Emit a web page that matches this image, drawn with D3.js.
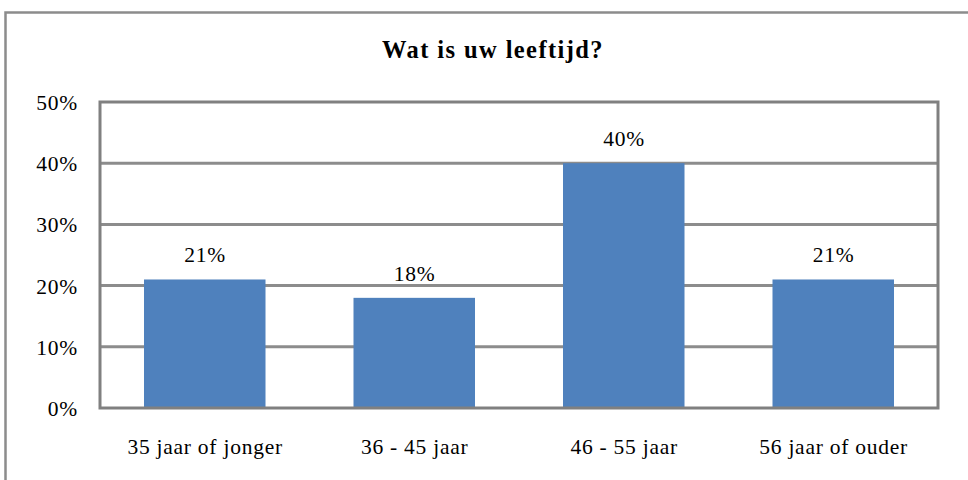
<!DOCTYPE html>
<html>
<head>
<meta charset="utf-8">
<script src="https://cdn.jsdelivr.net/npm/d3@7"></script>
<style>
  html, body { margin: 0; padding: 0; background: #fff; }
  svg { display: block; }
  text { font-family: "Liberation Serif", "DejaVu Serif", serif; fill: #000; }
</style>
</head>
<body>
<svg id="chart" width="968" height="480"></svg>
<script>
// Age groups and their share of respondents
const categories = ["35 jaar of jonger", "36 - 45 jaar", "46 - 55 jaar", "56 jaar of ouder"];
const values = [0.21, 0.18, 0.40, 0.21];
const yTicks = [0, 0.1, 0.2, 0.3, 0.4, 0.5];
const title = "Wat is uw leeftijd?";

const svg = d3.select("#chart");
const plot = { left: 100, right: 938, top: 102, bottom: 408 };
const labelSize = 21.5, labelSpacing = 0.75;

// Outer frame
svg.append("rect")
  .attr("x", 5.5).attr("y", 12.5)
  .attr("width", 990).attr("height", 500)
  .attr("fill", "none").attr("stroke", "#8c8c8c").attr("stroke-width", 2.5);

svg.append("text")
  .attr("x", 493).attr("y", 58)
  .attr("text-anchor", "middle")
  .attr("font-weight", "bold")
  .attr("font-size", 24.5)
  .attr("letter-spacing", 1.4)
  .text(title);

const x = d3.scaleBand().domain(categories).range([plot.left, plot.right]).paddingInner(0.42).paddingOuter(0.21);
const y = d3.scaleLinear().domain([0, 0.5]).range([plot.bottom, plot.top]);
const fmt = d3.format(".0%");

// Gridlines
svg.append("g").selectAll("line").data(yTicks.filter(t => t > 0 && t < 0.5)).join("line")
  .attr("x1", plot.left).attr("x2", plot.right)
  .attr("y1", d => y(d)).attr("y2", d => y(d))
  .attr("stroke", "#8c8c8c").attr("stroke-width", 3);

// Bars
svg.append("g").selectAll("rect").data(values).join("rect")
  .attr("x", (d, i) => x(categories[i]))
  .attr("width", x.bandwidth())
  .attr("y", d => y(d))
  .attr("height", d => y(0) - y(d))
  .attr("fill", "#4f81bd");

// Plot frame
svg.append("rect")
  .attr("x", plot.left).attr("y", plot.top)
  .attr("width", plot.right - plot.left).attr("height", plot.bottom - plot.top)
  .attr("fill", "none").attr("stroke", "#808080").attr("stroke-width", 3);

// Value labels
svg.append("g").selectAll("text").data(values).join("text")
  .attr("x", (d, i) => x(categories[i]) + x.bandwidth() / 2 + labelSpacing / 2)
  .attr("y", d => y(d) - 17)
  .attr("text-anchor", "middle")
  .attr("font-size", labelSize)
  .attr("letter-spacing", labelSpacing)
  .text(d => fmt(d));

// Y axis labels
const yAxis = d3.axisLeft(y).tickValues(yTicks).tickFormat(fmt).tickSize(0).tickPadding(22);
const yg = svg.append("g").attr("transform", `translate(${plot.left},0)`).call(yAxis);
yg.select(".domain").remove();
yg.selectAll("text")
  .attr("font-size", labelSize).attr("font-family", null)
  .attr("letter-spacing", labelSpacing).attr("dy", "0.35em");

// X axis labels
const xAxis = d3.axisBottom(x).tickSize(0).tickPadding(31);
const xg = svg.append("g").attr("transform", `translate(0,${plot.bottom})`).call(xAxis);
xg.select(".domain").remove();
xg.selectAll("text")
  .attr("font-size", labelSize).attr("font-family", null)
  .attr("letter-spacing", labelSpacing)
  .attr("dx", labelSpacing / 2);
</script>
</body>
</html>
